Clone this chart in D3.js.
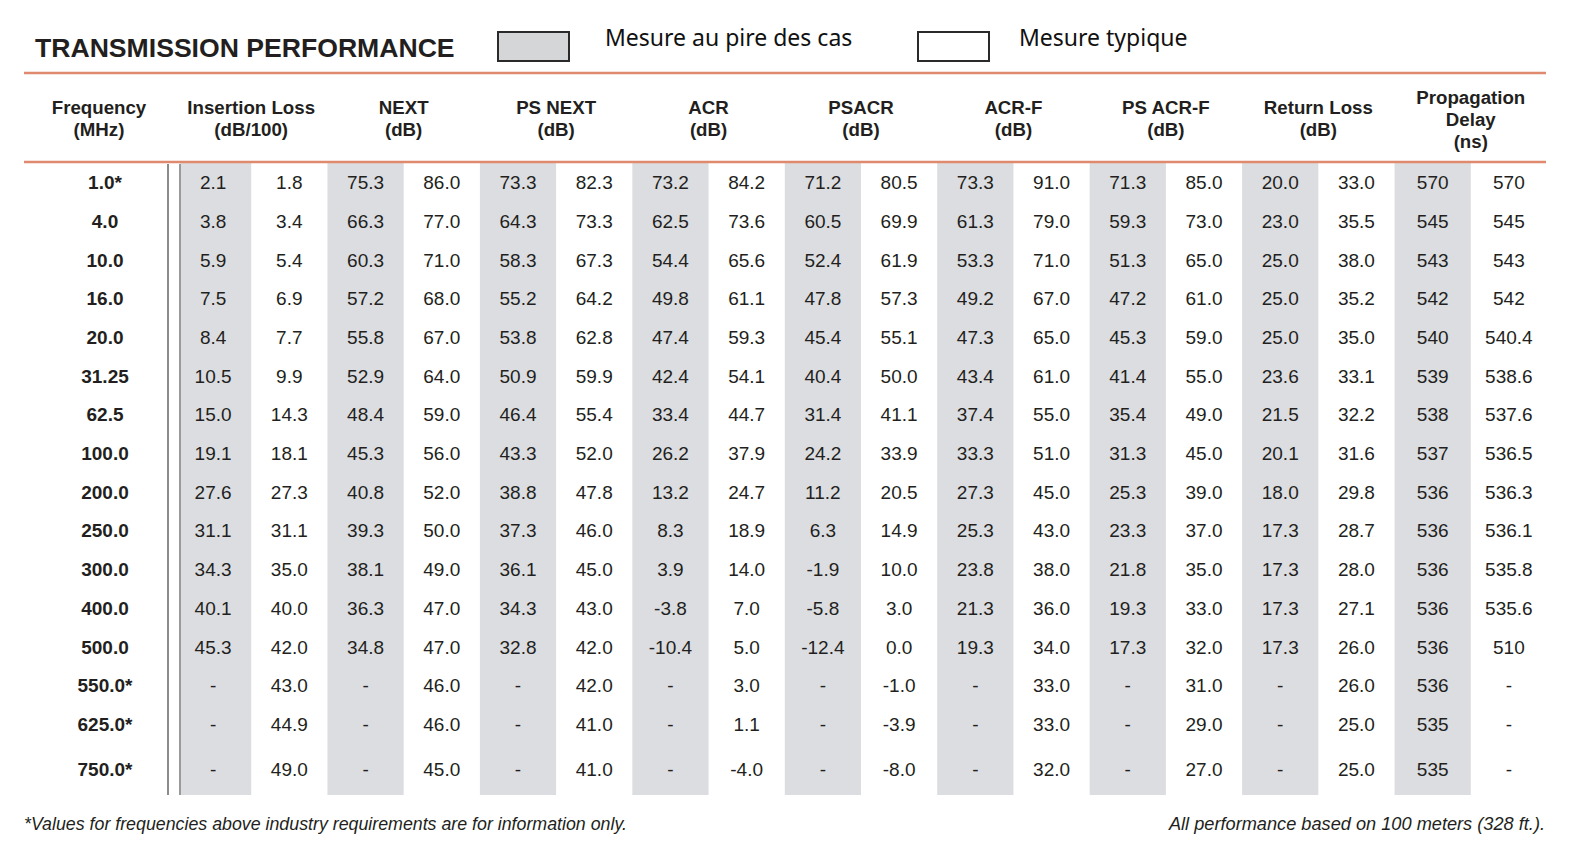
<!DOCTYPE html>
<html>
<head>
<meta charset="utf-8">
<script src="https://cdn.jsdelivr.net/npm/d3@7"></script>
<style>
  html, body { margin: 0; padding: 0; background: #fff; }
  svg { display: block; }
</style>
</head>
<body>
<svg id="chart" width="1570" height="854"></svg>
<script>
// ---------- DATA ----------
const frequencies = ["1.0*", "4.0", "10.0", "16.0", "20.0", "31.25", "62.5", "100.0", "200.0", "250.0", "300.0", "400.0", "500.0", "550.0*", "625.0*", "750.0*"];

const groupNames = [
  ["Insertion Loss", "(dB/100)"],
  ["NEXT", "(dB)"],
  ["PS NEXT", "(dB)"],
  ["ACR", "(dB)"],
  ["PSACR", "(dB)"],
  ["ACR-F", "(dB)"],
  ["PS ACR-F", "(dB)"],
  ["Return Loss", "(dB)"],
  ["Propagation", "Delay", "(ns)"]
];

const insertionLossWorst = ["2.1","3.8","5.9","7.5","8.4","10.5","15.0","19.1","27.6","31.1","34.3","40.1","45.3","-","-","-"];
const insertionLossTyp   = ["1.8","3.4","5.4","6.9","7.7","9.9","14.3","18.1","27.3","31.1","35.0","40.0","42.0","43.0","44.9","49.0"];
const nextWorst   = ["75.3","66.3","60.3","57.2","55.8","52.9","48.4","45.3","40.8","39.3","38.1","36.3","34.8","-","-","-"];
const nextTyp     = ["86.0","77.0","71.0","68.0","67.0","64.0","59.0","56.0","52.0","50.0","49.0","47.0","47.0","46.0","46.0","45.0"];
const psNextWorst = ["73.3","64.3","58.3","55.2","53.8","50.9","46.4","43.3","38.8","37.3","36.1","34.3","32.8","-","-","-"];
const psNextTyp   = ["82.3","73.3","67.3","64.2","62.8","59.9","55.4","52.0","47.8","46.0","45.0","43.0","42.0","42.0","41.0","41.0"];
const acrWorst    = ["73.2","62.5","54.4","49.8","47.4","42.4","33.4","26.2","13.2","8.3","3.9","-3.8","-10.4","-","-","-"];
const acrTyp      = ["84.2","73.6","65.6","61.1","59.3","54.1","44.7","37.9","24.7","18.9","14.0","7.0","5.0","3.0","1.1","-4.0"];
const psacrWorst  = ["71.2","60.5","52.4","47.8","45.4","40.4","31.4","24.2","11.2","6.3","-1.9","-5.8","-12.4","-","-","-"];
const psacrTyp    = ["80.5","69.9","61.9","57.3","55.1","50.0","41.1","33.9","20.5","14.9","10.0","3.0","0.0","-1.0","-3.9","-8.0"];
const acrfWorst   = ["73.3","61.3","53.3","49.2","47.3","43.4","37.4","33.3","27.3","25.3","23.8","21.3","19.3","-","-","-"];
const acrfTyp     = ["91.0","79.0","71.0","67.0","65.0","61.0","55.0","51.0","45.0","43.0","38.0","36.0","34.0","33.0","33.0","32.0"];
const psAcrfWorst = ["71.3","59.3","51.3","47.2","45.3","41.4","35.4","31.3","25.3","23.3","21.8","19.3","17.3","-","-","-"];
const psAcrfTyp   = ["85.0","73.0","65.0","61.0","59.0","55.0","49.0","45.0","39.0","37.0","35.0","33.0","32.0","31.0","29.0","27.0"];
const returnLossWorst = ["20.0","23.0","25.0","25.0","25.0","23.6","21.5","20.1","18.0","17.3","17.3","17.3","17.3","-","-","-"];
const returnLossTyp   = ["33.0","35.5","38.0","35.2","35.0","33.1","32.2","31.6","29.8","28.7","28.0","27.1","26.0","26.0","25.0","25.0"];
const propDelayWorst  = ["570","545","543","542","540","539","538","537","536","536","536","536","536","536","535","535"];
const propDelayTyp    = ["570","545","543","542","540.4","538.6","537.6","536.5","536.3","536.1","535.8","535.6","510","-","-","-"];

const columns = [
  insertionLossWorst, insertionLossTyp,
  nextWorst, nextTyp,
  psNextWorst, psNextTyp,
  acrWorst, acrTyp,
  psacrWorst, psacrTyp,
  acrfWorst, acrfTyp,
  psAcrfWorst, psAcrfTyp,
  returnLossWorst, returnLossTyp,
  propDelayWorst, propDelayTyp
];

const title = "TRANSMISSION PERFORMANCE";
const legendLabels = ["Mesure au pire des cas", "Mesure typique"];
const footLeft = "*Values for frequencies above industry requirements are for information only.";
const footRight = "All performance based on 100 meters (328 ft.).";

// ---------- DRAW ----------
const svg = d3.select("#chart");
const ORANGE = "#df8a6f";
const SHADE = "#dcdde0";
const INK = "#231f20";
const FONT = "'Liberation Sans', Arial, Helvetica, sans-serif";

const x = d3.scaleBand().domain(d3.range(columns.length)).range([175, 1547]);
const bw = x.bandwidth();
const shadeLeft = 180;
const tableTop = 163, normalBottom = 743.5, tableBottom = 795;
const y = d3.scaleLinear().domain([0, frequencies.length - 1]).range([tableTop, normalBottom]);
const rowCenter = i => i < frequencies.length - 1 ? y(i + 0.5) : (y(i) + tableBottom) / 2;

// title
svg.append("text")
  .attr("x", 35).attr("y", 57)
  .attr("font-family", FONT).attr("font-weight", "bold").attr("font-size", 26.6)
  .attr("fill", INK)
  .text(title);

// legend
const legendBoxX = [498, 918];
const legendTextX = [605, 1019];
const legendFill = ["#d5d6d8", "#fff"];
legendLabels.forEach((lab, i) => {
  svg.append("rect")
    .attr("x", legendBoxX[i]).attr("y", 32).attr("width", 71).attr("height", 29)
    .attr("fill", legendFill[i])
    .attr("stroke", "#2a2a2a").attr("stroke-width", 2);
  svg.append("text")
    .attr("x", legendTextX[i]).attr("y", 46)
    .attr("font-family", "'Noto Sans', 'Open Sans', sans-serif").attr("font-size", 23)
    .attr("fill", "#111")
    .text(lab);
});

// shaded columns
svg.append("g").selectAll("rect")
  .data(d3.range(0, columns.length, 2))
  .join("rect")
  .attr("x", d => Math.max(x(d), shadeLeft)).attr("y", tableTop)
  .attr("width", d => x(d) + bw - Math.max(x(d), shadeLeft)).attr("height", tableBottom - tableTop)
  .attr("fill", SHADE);

// orange rules
[73, 162].forEach(yy => {
  svg.append("line")
    .attr("x1", 24).attr("x2", 1546).attr("y1", yy).attr("y2", yy)
    .attr("stroke", ORANGE).attr("stroke-width", 2.6);
});

// double vertical line
[[168, "#8c8c8c"], [180, "#9a9a9a"]].forEach(([xx, c]) => {
  svg.append("line")
    .attr("x1", xx).attr("x2", xx).attr("y1", tableTop + 1).attr("y2", tableBottom)
    .attr("stroke", c).attr("stroke-width", 2);
});

// headers
function headerBlock(cx, lines) {
  const lh = 22;
  const startY = lines.length === 3 ? 104 : 114;
  const t = svg.append("text")
    .attr("text-anchor", "middle")
    .attr("font-family", FONT).attr("font-weight", "bold").attr("font-size", 18.7)
    .attr("fill", INK);
  lines.forEach((l, k) => {
    t.append("tspan").attr("x", cx).attr("y", startY + k * lh).text(l);
  });
}
headerBlock(99, ["Frequency", "(MHz)"]);
groupNames.forEach((g, gi) => {
  headerBlock(x(gi * 2) + bw, g);
});

// frequency labels
svg.append("g").selectAll("text")
  .data(frequencies)
  .join("text")
  .attr("x", 105).attr("y", (d, i) => rowCenter(i))
  .attr("dy", "0.36em")
  .attr("text-anchor", "middle")
  .attr("font-family", FONT).attr("font-weight", "bold").attr("font-size", 19)
  .attr("fill", INK)
  .text(d => d);

// values
const cells = [];
columns.forEach((col, ci) => col.forEach((v, ri) => cells.push({ci, ri, v})));
svg.append("g").selectAll("text")
  .data(cells)
  .join("text")
  .attr("x", d => x(d.ci) + bw / 2)
  .attr("y", d => rowCenter(d.ri))
  .attr("dy", "0.36em")
  .attr("text-anchor", "middle")
  .attr("font-family", FONT).attr("font-size", 19)
  .attr("fill", INK)
  .text(d => d.v);

// footer
svg.append("text")
  .attr("x", 24).attr("y", 830)
  .attr("font-family", FONT).attr("font-style", "italic").attr("font-size", 17.8)
  .attr("fill", INK)
  .text(footLeft);
svg.append("text")
  .attr("x", 1545).attr("y", 830)
  .attr("text-anchor", "end")
  .attr("font-family", FONT).attr("font-style", "italic").attr("font-size", 18.2)
  .attr("fill", INK)
  .text(footRight);
</script>
</body>
</html>
